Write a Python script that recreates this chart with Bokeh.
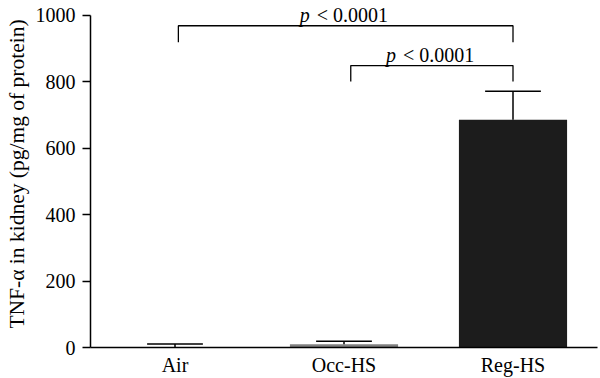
from bokeh.plotting import figure
from bokeh.models import Range1d, FixedTicker, ColumnDataSource
from bokeh.core.properties import value
from bokeh.embed import file_html
from bokeh.resources import INLINE

# ---- data ----
groups = ["Air", "Occ-HS", "Reg-HS"]
means = [1.5, 10, 686]
errors = [9, 9, 86]
bar_colors = ["#ffffff", "#808080", "#1c1c1c"]
y_ticks = [0, 200, 400, 600, 800, 1000]

bracket_left = [0, 1]
bracket_right = [2, 2]
bracket_y = [969, 849]
bracket_drop = [50, 48]
bracket_inset = [0.02, 0.04]
bracket_text = ["< 0.0001", "< 0.0001"]

FONT = "Liberation Serif"
FS = "20px"

p = figure(width=600, height=378, output_backend="svg", toolbar_location=None,
           x_range=Range1d(0, 3), y_range=Range1d(0, 1045),
           min_border_left=90, min_border_right=3, min_border_top=0,
           min_border_bottom=30)
p.outline_line_color = None
p.xgrid.visible = False
p.ygrid.visible = False
p.background_fill_color = "white"
p.border_fill_color = "white"

xc = [i + 0.5 for i in range(len(groups))]
src = ColumnDataSource(dict(x=xc, top=means, color=bar_colors,
                            up=[m + e for m, e in zip(means, errors)]))
p.vbar(x="x", top="top", bottom=0, width=0.64, fill_color="color",
       line_color=None, source=src)
# error bars (upper only)
p.segment(x0="x", y0="top", x1="x", y1="up", line_color="black",
          line_width=1.5, source=src)
p.segment(x0=[x - 0.165 for x in xc], y0=src.data["up"],
          x1=[x + 0.165 for x in xc], y1=src.data["up"],
          line_color="black", line_width=1.5)

# significance brackets
xs, ys, mids, ty = [], [], [], []
for l, r, y, d, ins in zip(bracket_left, bracket_right, bracket_y, bracket_drop, bracket_inset):
    xl = l + 0.5 + ins
    xr = r + 0.5
    xs.append([xl, xl, xr, xr])
    ys.append([y - d, y, y, y - d])
    mids.append((xl + xr) / 2)
    ty.append(y + 33)
p.multi_line(xs=xs, ys=ys, line_color="black", line_width=1.3)
p.text(x=mids, y=ty, text=["p"] * len(mids), text_font=value(FONT),
       text_font_style="italic", text_font_size=FS, text_align="left",
       text_baseline="alphabetic", x_offset=-46, text_color="black")
p.text(x=mids, y=ty, text=bracket_text, text_font=value(FONT),
       text_font_size=FS, text_align="left",
       text_baseline="alphabetic", x_offset=-29, text_color="black")

# axes
xa = p.xaxis[0]
xa.ticker = FixedTicker(ticks=xc)
xa.major_label_overrides = {x: g for x, g in zip(xc, groups)}
xa.major_tick_line_color = None
xa.major_tick_out = 0
xa.major_tick_in = 0
xa.minor_tick_line_color = None
xa.axis_line_width = 1.5
xa.axis_line_color = "black"
xa.major_label_text_font = FONT
xa.major_label_text_font_size = FS
xa.major_label_text_color = "black"
xa.major_label_standoff = 6

ya = p.yaxis[0]
ya.ticker = FixedTicker(ticks=y_ticks)
ya.bounds = (0, 1000)
ya.minor_tick_line_color = None
ya.major_tick_out = 8
ya.major_tick_in = 0
ya.major_tick_line_width = 1.5
ya.axis_line_width = 1.5
ya.axis_line_color = "black"
ya.major_label_text_font = FONT
ya.major_label_text_font_size = FS
ya.major_label_text_color = "black"
ya.major_label_standoff = 7
ya.axis_label = "TNF-α in kidney (pg/mg of protein)"
ya.axis_label_text_font = FONT
ya.axis_label_text_font_style = "normal"
ya.axis_label_text_font_size = "21.5px"
ya.axis_label_text_color = "black"
ya.axis_label_standoff = 4

open("out.html", "w").write(file_html(p, INLINE))
